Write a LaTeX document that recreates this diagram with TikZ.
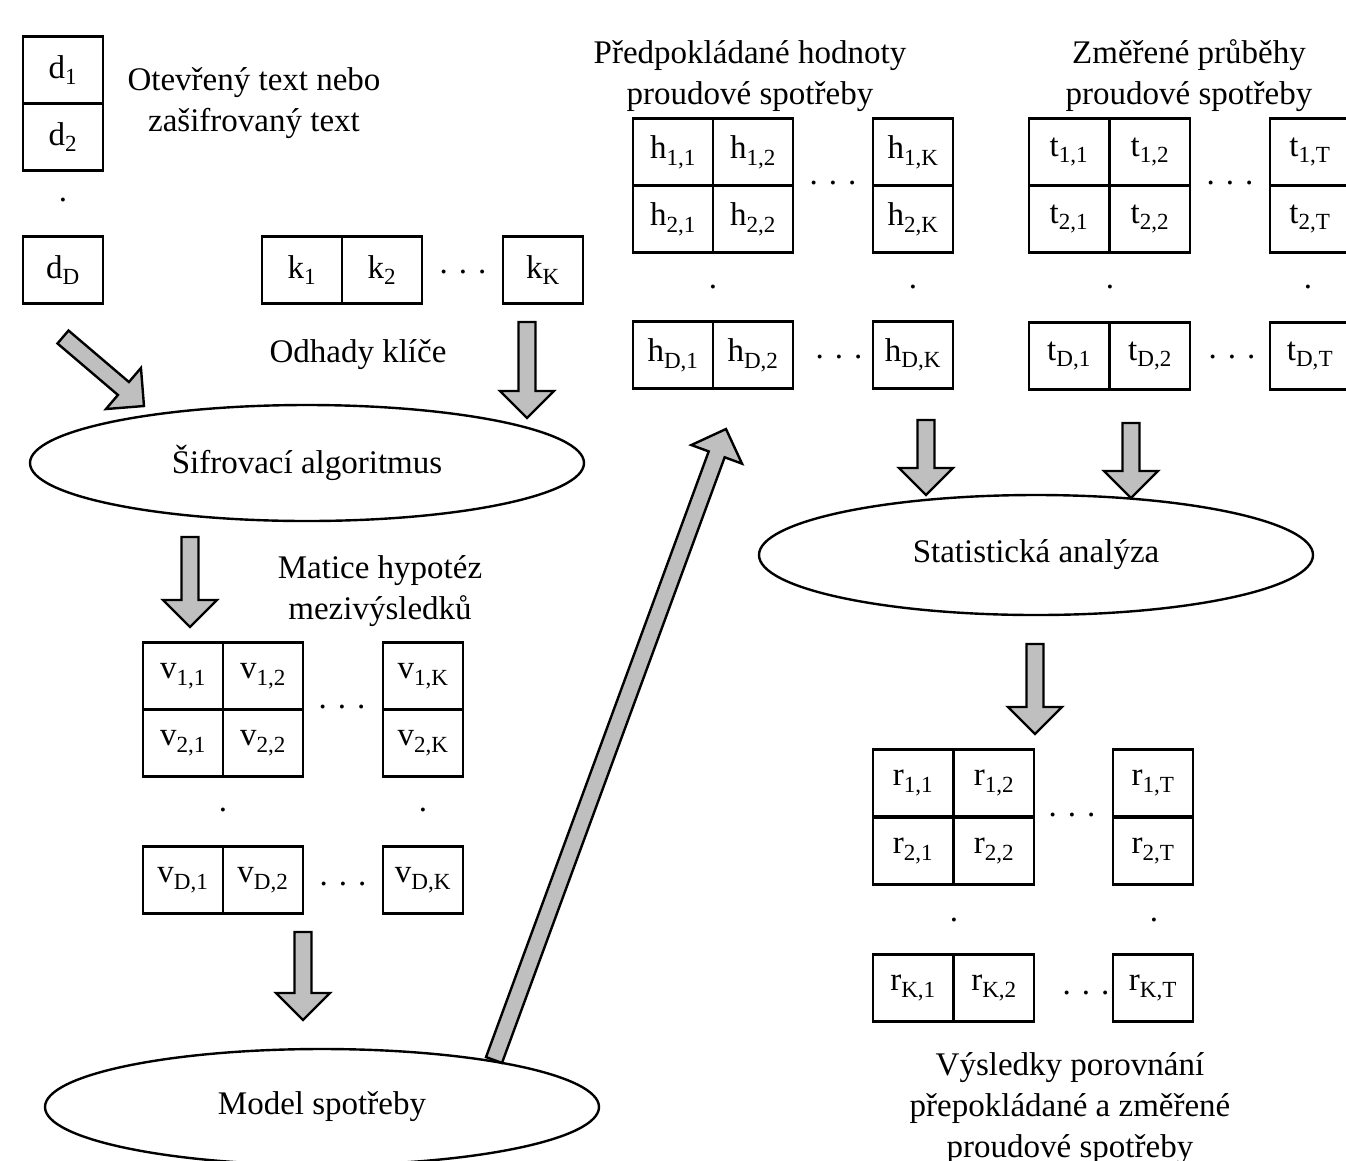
\documentclass[tikz,border=0pt]{standalone}
\usepackage{fontspec}
\setmainfont{Liberation Serif}
\usetikzlibrary{shapes.geometric, calc}
\newcommand{\spreaddots}{.\hspace{11pt}.\hspace{11pt}.}
\tikzset{
  cell/.style={draw, line width=2.4pt, minimum width=80pt, minimum height=67pt, inner sep=0pt},
  oval/.style={draw, ellipse, line width=2.4pt, minimum width=554pt, minimum height=116pt, inner sep=0pt},
  caption/.style={align=center},
  fatarrow/.style={draw=black, fill=gray!50, line width=2.4pt, line join=miter,
    to path={
      ($(\tikztostart)!8.5pt!90:(\tikztotarget)$)
      -- ($(\tikztotarget)!27pt!(\tikztostart)!8.5pt!-90:(\tikztostart)$)
      -- ($(\tikztotarget)!27pt!(\tikztostart)!27pt!-90:(\tikztostart)$)
      -- (\tikztotarget)
      -- ($(\tikztotarget)!27pt!(\tikztostart)!27pt!90:(\tikztostart)$)
      -- ($(\tikztotarget)!27pt!(\tikztostart)!8.5pt!90:(\tikztostart)$)
      -- ($(\tikztostart)!8.5pt!-90:(\tikztotarget)$) -- cycle}}
}
\begin{document}
\begin{tikzpicture}[x=1pt, y=-1pt, every node/.style={font=\fontsize{33}{41}\selectfont}]
    \useasboundingbox (0,0) rectangle (1346,1160);
    % plaintext / ciphertext
    \node[cell] (d1) at (63,70) {d\textsubscript{1}};
    \node[cell] (d2) at (63,137) {d\textsubscript{2}};
    \node (ddot) at (63,200) {.};
    \node[cell] (dD) at (63,270) {d\textsubscript{D}};
    \node[caption] (dtext) at (254,103) {Otevřený text nebo\\zašifrovaný text};
    % key guesses
    \node[cell] (k1) at (302,270) {k\textsubscript{1}};
    \node[cell] (k2) at (382,270) {k\textsubscript{2}};
    \node (kdots) at (463,272) {\spreaddots};
    \node[cell] (kK) at (543,270) {k\textsubscript{K}};
    \node (ktext) at (358,355) {Odhady klíče};
    \node[oval] (cipher) at (307,463) {Šifrovací algoritmus};
    % intermediate values
    \node[caption] (vtext) at (380,591) {Matice hypotéz\\mezivýsledků};
    \node[cell] (v11) at (183,676) {v\textsubscript{1,1}};
    \node[cell] (v12) at (263,676) {v\textsubscript{1,2}};
    \node[cell] (v1K) at (423,676) {v\textsubscript{1,K}};
    \node[cell] (v21) at (183,743) {v\textsubscript{2,1}};
    \node[cell] (v22) at (263,743) {v\textsubscript{2,2}};
    \node[cell] (v2K) at (423,743) {v\textsubscript{2,K}};
    \node (vdots) at (342,707) {\spreaddots};
    \node (vdot1) at (223,810) {.};
    \node (vdot2) at (423,810) {.};
    \node[cell] (vD1) at (183,880) {v\textsubscript{D,1}};
    \node[cell] (vD2) at (263,880) {v\textsubscript{D,2}};
    \node[cell] (vDK) at (423,880) {v\textsubscript{D,K}};
    \node (vdotsD) at (343,884) {\spreaddots};
    \node[oval] (model) at (322,1107) {Model spotřeby};
    % hypothetical consumption
    \node[caption] (htext) at (750,76) {Předpokládané hodnoty\\proudové spotřeby};
    \node[cell] (h11) at (673,152) {h\textsubscript{1,1}};
    \node[cell] (h12) at (753,152) {h\textsubscript{1,2}};
    \node[cell] (h1K) at (913,152) {h\textsubscript{1,K}};
    \node[cell] (h21) at (673,219) {h\textsubscript{2,1}};
    \node[cell] (h22) at (753,219) {h\textsubscript{2,2}};
    \node[cell] (h2K) at (913,219) {h\textsubscript{2,K}};
    \node (hdots) at (833,183) {\spreaddots};
    \node (hdot1) at (713,287) {.};
    \node (hdot2) at (913,287) {.};
    \node[cell] (hD1) at (673,355) {h\textsubscript{D,1}};
    \node[cell] (hD2) at (753,355) {h\textsubscript{D,2}};
    \node[cell] (hDK) at (913,355) {h\textsubscript{D,K}};
    \node (hdotsD) at (839,357) {\spreaddots};
    % measured traces
    \node[caption] (ttext) at (1189,76) {Změřené průběhy\\proudové spotřeby};
    \node[cell] (t11) at (1069,152) {t\textsubscript{1,1}};
    \node[cell] (t12) at (1150,152) {t\textsubscript{1,2}};
    \node[cell] (t1T) at (1310,152) {t\textsubscript{1,T}};
    \node[cell] (t21) at (1069,219) {t\textsubscript{2,1}};
    \node[cell] (t22) at (1150,219) {t\textsubscript{2,2}};
    \node[cell] (t2T) at (1310,219) {t\textsubscript{2,T}};
    \node (tdots) at (1230,183) {\spreaddots};
    \node (tdot1) at (1110,287) {.};
    \node (tdot2) at (1308,287) {.};
    \node[cell] (tD1) at (1069,356) {t\textsubscript{D,1}};
    \node[cell] (tD2) at (1150,356) {t\textsubscript{D,2}};
    \node[cell] (tDT) at (1310,356) {t\textsubscript{D,T}};
    \node (tdotsD) at (1232,357) {\spreaddots};
    \node[oval, minimum height=120pt] (stat) at (1036,555) {Statistická analýza};
    % results
    \node[cell] (r11) at (913,783) {r\textsubscript{1,1}};
    \node[cell] (r12) at (994,783) {r\textsubscript{1,2}};
    \node[cell] (r1T) at (1153,783) {r\textsubscript{1,T}};
    \node[cell] (r21) at (913,851) {r\textsubscript{2,1}};
    \node[cell] (r22) at (994,851) {r\textsubscript{2,2}};
    \node[cell] (r2T) at (1153,851) {r\textsubscript{2,T}};
    \node (rdots) at (1072,815) {\spreaddots};
    \node (rdot1) at (954,920) {.};
    \node (rdot2) at (1154,920) {.};
    \node[cell] (rK1) at (913,988) {r\textsubscript{K,1}};
    \node[cell] (rK2) at (994,988) {r\textsubscript{K,2}};
    \node[cell] (rKT) at (1153,988) {r\textsubscript{K,T}};
    \node (rdotsK) at (1086,993) {\spreaddots};
    \node[caption] (rtext) at (1070,1109) {Výsledky porovnání\\přepokládané a změřené\\proudové spotřeby};
    % arrow ends
    \coordinate (dout) at (63,337);  \coordinate (din) at (144,406);
    \coordinate (kout) at (527,322); \coordinate (kin) at (527,418);
    \coordinate (cout) at (190,537); \coordinate (vin) at (190,627);
    \coordinate (vout) at (303,932); \coordinate (min) at (303,1020);
    \coordinate (mout) at (494,1060); \coordinate (hin) at (726,429);
    \coordinate (hout) at (926,420); \coordinate (sin1) at (926,495);
    \coordinate (tout) at (1131,423); \coordinate (sin2) at (1131,498);
    \coordinate (sout) at (1035,644); \coordinate (rin) at (1035,734);
    \draw[fatarrow] (dout) to (din);
    \draw[fatarrow] (kout) to (kin);
    \draw[fatarrow] (cout) to (vin);
    \draw[fatarrow] (vout) to (min);
    \draw[fatarrow] (mout) to (hin);
    \draw[fatarrow] (hout) to (sin1);
    \draw[fatarrow] (tout) to (sin2);
    \draw[fatarrow] (sout) to (rin);
\end{tikzpicture}
\end{document}
